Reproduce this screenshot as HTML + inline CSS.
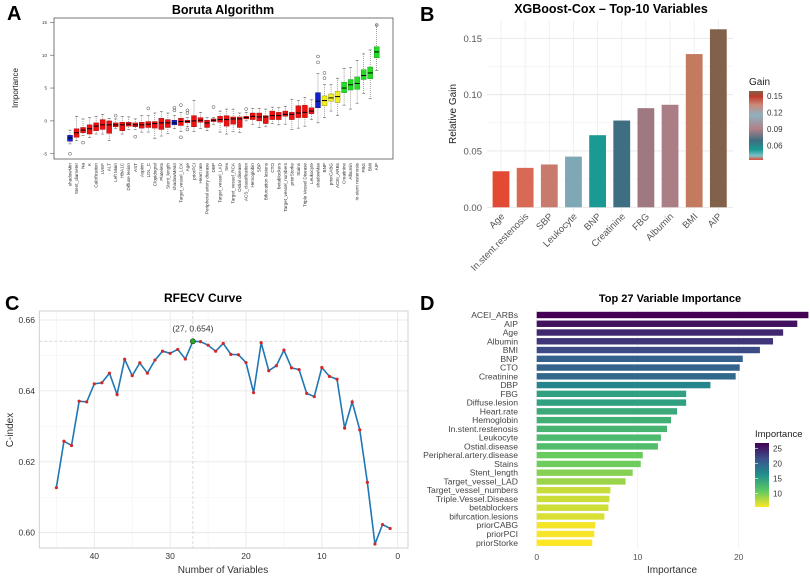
<!DOCTYPE html>
<html><head><meta charset="utf-8"><style>
html,body{margin:0;padding:0;background:#fff;}
svg{display:block;font-family:"Liberation Sans",sans-serif;}
</style></head><body>
<svg id="fig" width="810" height="579" viewBox="0 0 810 579">
<rect width="810" height="579" fill="#fff"/>
<g id="pa"></g>
<g id="pb"></g>
<g id="pc"></g>
<g id="pd"></g>
</svg>
<script>
// ---------- Panel A data ----------
const borutaNames=["shadowMin","Stent_diameter","Na","K","Calcification","LVEF","ALT","Left Main","HbA1C","Diffuse lesion","AST","Aspirin","LDL_C","Clopidogrel","Platelets","Stent_length","shadowMean","Target_vessel_LCX","Age","priorPCI","Heart rate","Peripheral artery disease","DBP","Target_vessel_LAD","Sex","Target_vessel_RCA","Ostial disease","ACS_classification","Hemoglobin","SBP","Bifurcation lesions","CTO","betablockers","Target_vessel_numbers","priorStorke","Stains","Triple Vessel Disease","Leukocyte","shadowMax","BNP","priorCABG","ACEI_ARBs","Creatinine","Albumin","In-stent restenosis","FBG","BMI","AIP"];
const borutaMed=[-2.6,-1.8,-1.4,-1.2,-0.8,-0.6,-0.6,-0.6,-0.6,-0.5,-0.6,-0.6,-0.5,-0.4,-0.3,-0.3,-0.3,-0.1,-0.1,0,0.1,-0.3,0.1,0.2,0.2,0.3,0.3,0.5,0.7,0.6,0.6,0.8,0.8,1.0,1.0,1.2,1.3,1.5,3,3.1,3.5,3.7,5,5.5,5.7,6.9,7.3,10.5];
const borutaQ1=[-3.1,-2.5,-1.8,-2,-1.5,-1.3,-1.9,-0.9,-1.5,-0.8,-0.9,-1.1,-1.0,-1.1,-1.3,-1.0,-0.6,-0.7,-0.3,-0.9,-0.2,-1.0,-0.1,-0.2,-0.8,-0.5,-1.0,0.3,0.2,0,-0.4,0.2,0.2,0.7,0.2,0.5,0.5,1.1,2,2.3,3,2.8,4.3,4.7,4.8,6.3,6.4,9.6];
const borutaQ3=[-2.2,-1.2,-1.0,-0.6,-0.3,0.2,0,-0.3,-0.2,-0.2,-0.3,-0.2,-0.1,-0.1,0.4,0.2,0.1,0.4,0.1,0.8,0.5,0.1,0.3,0.7,0.8,0.6,0.6,0.7,1.2,1.2,0.8,1.5,1.3,1.5,1.3,2.3,2.4,2.0,4.3,3.8,4.1,4.5,5.9,6.3,6.7,7.8,8.2,11.3];
const borutaLo=[-3.5,-3,-2.2,-2.5,-2,-2,-3,-1.2,-2,-1.3,-1.3,-1.7,-1.7,-2.7,-2.3,-1.9,-1.2,-1.6,-0.9,-1.6,-1.2,-1.5,-0.5,-1.7,-2,-1.6,-1.8,0,-0.5,-1,-0.9,-0.4,-0.6,-0.5,-1.3,-1.1,-0.8,0.2,-0.3,0.5,1.5,0.8,2.4,1.8,2.7,4.2,3.4,7.7];
const borutaHi=[-1.4,0.7,0.3,0.5,0.7,1,0.4,0.3,0.7,0.6,0.3,0.8,0.8,1.2,1.4,1.2,0.8,1.3,0.5,3.1,1.3,0.5,0.5,1.5,1.8,1.8,1.2,1.3,1.9,1.9,1.8,2.1,2,2.2,3.3,3.1,3.6,3.2,7.2,5.5,5.5,6.5,8,8.1,9.2,10.2,10.8,14.6];
const borutaOut=[[-5],[],[-3.3],[],[],[],[],[0.8],[],[],[-2.4],[],[1.9],[],[],[],[1.6,2.0],[2.4,-2.5],[1.6,1.2,-1.3],[],[],[],[2.1],[],[],[],[],[1.8],[],[],[],[],[],[],[],[],[],[],[8.9,9.8],[6.5,7.3],[],[],[],[],[],[],[],[14.6]];
const borutaClass=["s","r","r","r","r","r","r","r","r","r","r","r","r","r","r","r","s","r","r","r","r","r","r","r","r","r","r","r","r","r","r","r","r","r","r","r","r","r","s","y","y","y","g","g","g","g","g","g"];
const borutaTicks=[-5,0,5,10,15];
// ---------- Panel B data ----------
const xgbNames=["Age","In.stent.restenosis","SBP","Leukocyte","BNP","Creatinine","FBG","Albumin","BMI","AIP"];
const xgbGain=[0.032,0.035,0.038,0.045,0.064,0.077,0.088,0.091,0.136,0.158];
const xgbColors=["#e34a33","#d86a55","#c87a6c","#7ea8b6","#1a9a92","#3d6e82","#a07880","#aa7e84","#c47a5e","#82614a"];
const xgbTicks=[0,0.05,0.10,0.15];
const xgbTickLabels=["0.00","0.05","0.10","0.15"];
const gainLegendTicks=[0.15,0.12,0.09,0.06];
// ---------- Panel C data ----------
const rfeN=[45,44,43,42,41,40,39,38,37,36,35,34,33,32,31,30,29,28,27,26,25,24,23,22,21,20,19,18,17,16,15,14,13,12,11,10,9,8,7,6,5,4,3,2,1];
const rfeC=[.6127,.6258,.6246,.6371,.6369,.6420,.6423,.6450,.6390,.6489,.6443,.6479,.6450,.6487,.6512,.6506,.6517,.6490,.6540,.6539,.6529,.6512,.6534,.6503,.6502,.6480,.6395,.6536,.6457,.6471,.6515,.6465,.6460,.6393,.6384,.6466,.6441,.6433,.6295,.6369,.6290,.6142,.5968,.6023,.6012];
const rfeXTicks=[40,30,20,10,0];
const rfeYTicks=[0.60,0.62,0.64,0.66];
// ---------- Panel D data ----------
const impNames=["ACEI_ARBs","AIP","Age","Albumin","BMI","BNP","CTO","Creatinine","DBP","FBG","Diffuse.lesion","Heart.rate","Hemoglobin","In.stent.restenosis","Leukocyte","Ostial.disease","Peripheral.artery.disease","Stains","Stent_length","Target_vessel_LAD","Target_vessel_numbers","Triple.Vessel.Disease","betablockers","bifurcation.lesions","priorCABG","priorPCI","priorStorke"];
const impVals=[26.9,25.8,24.4,23.4,22.1,20.4,20.1,19.7,17.2,14.8,14.8,13.9,13.3,12.9,12.3,12.0,10.5,10.3,9.5,8.8,7.3,7.2,7.1,6.7,5.8,5.7,5.5];
const impXTicks=[0,10,20];
const impLegendTicks=[25,20,15,10];

const NS="http://www.w3.org/2000/svg";
function mk(parent,tag,attrs,txt){const e=document.createElementNS(NS,tag);for(const k in attrs)e.setAttribute(k,attrs[k]);if(txt!==undefined)e.textContent=txt;parent.appendChild(e);return e;}

// ================= Panel A =================
(function(){
const g=document.getElementById('pa');
const L=54,R=393,T=18,B=159;
const y=v=>120.9-v*6.57;
const x=i=>70+i*(306.7/47);
let t=mk(g,'text',{x:7,y:20,'font-size':20,'font-weight':'bold'},'A');

t=mk(g,'text',{x:223,y:14,'font-size':12.5,'font-weight':'bold','text-anchor':'middle'},'Boruta Algorithm');

let r=mk(g,'rect',{x:L,y:T,width:R-L,height:B-T,fill:'none',stroke:'#555','stroke-width':0.8});

borutaTicks.forEach(v=>{
 let l=mk(g,'line',{x1:L-4,x2:L,y1:y(v),y2:y(v),stroke:'#555','stroke-width':0.6});
 
 let tt=mk(g,'text',{x:L-7,y:y(v)+1.6,'font-size':4.5,'text-anchor':'end',fill:'#333'},String(v));
 
});
t=mk(g,'text',{x:18,y:88,'font-size':8,'text-anchor':'middle',fill:'#222',transform:'rotate(-90 18 88)'},'Importance');

const fills={r:'#ee1111',s:'#1122cc',y:'#eeee22',g:'#22dd22'};
const strokes={r:'#990000',s:'#000066',y:'#888800',g:'#118811'};
const w=5;
borutaNames.forEach((n,i)=>{
 const cx=x(i);
 let wl=mk(g,'line',{x1:cx,x2:cx,y1:y(borutaHi[i]),y2:y(borutaLo[i]),stroke:'#444','stroke-width':0.5,'stroke-dasharray':'1 1'});
 
 [borutaHi[i],borutaLo[i]].forEach(v=>{let c=mk(g,'line',{x1:cx-1.5,x2:cx+1.5,y1:y(v),y2:y(v),stroke:'#444','stroke-width':0.5});});
 let b=mk(g,'rect',{x:cx-w/2,y:y(borutaQ3[i]),width:w,height:y(borutaQ1[i])-y(borutaQ3[i]),fill:fills[borutaClass[i]],stroke:strokes[borutaClass[i]],'stroke-width':0.4});
 
 let m=mk(g,'line',{x1:cx-w/2,x2:cx+w/2,y1:y(borutaMed[i]),y2:y(borutaMed[i]),stroke:'#000','stroke-width':1});
 
 borutaOut[i].forEach(v=>{let o=mk(g,'circle',{cx:cx,cy:y(v),r:1.5,fill:'none',stroke:'#444','stroke-width':0.5});});
 let lb=mk(g,'text',{x:cx+1.5,y:163,'font-size':4.6,'text-anchor':'end',fill:'#333',transform:`rotate(-90 ${cx+1.5} 163)`},n);
 
});
})();

// ================= Panel B =================
(function(){
const g=document.getElementById('pb');
const y=v=>207.3-v*1126.7;
const x=i=>501+i*24.15;
let t=mk(g,'text',{x:420,y:21,'font-size':20,'font-weight':'bold'},'B');

t=mk(g,'text',{x:611,y:13,'font-size':12.5,'font-weight':'bold','text-anchor':'middle'},'XGBoost-Cox – Top-10 Variables');

[0.025,0.075,0.125].forEach(v=>{let l=mk(g,'line',{x1:487,x2:733,y1:y(v),y2:y(v),stroke:'#f2f2f2','stroke-width':0.6});});
xgbTicks.forEach((v,k)=>{
 let l=mk(g,'line',{x1:487,x2:733,y1:y(v),y2:y(v),stroke:'#e6e6e6','stroke-width':0.9});
 
 let tt=mk(g,'text',{x:482,y:y(v)+3.5,'font-size':9.5,'text-anchor':'end',fill:'#555'},xgbTickLabels[k]);
 
});
xgbNames.forEach((n,i)=>{let l=mk(g,'line',{x1:x(i),x2:x(i),y1:20,y2:212,stroke:'#ececec','stroke-width':0.8});});
t=mk(g,'text',{x:456,y:114,'font-size':10,'text-anchor':'middle',fill:'#222',transform:'rotate(-90 456 114)'},'Relative Gain');

xgbNames.forEach((n,i)=>{
 let b=mk(g,'rect',{x:x(i)-8.4,y:y(xgbGain[i]),width:16.8,height:y(0)-y(xgbGain[i]),fill:xgbColors[i]});
 
 let lb=mk(g,'text',{x:x(i)+4,y:217,'font-size':9.5,'text-anchor':'end',fill:'#555',transform:`rotate(-45 ${x(i)+4} 217)`},n);
 
});
t=mk(g,'text',{x:749,y:85,'font-size':10,fill:'#222'},'Gain');

const defs=mk(g,'defs',{});
const lg=mk(defs,'linearGradient',{id:'gainGrad',x1:0,y1:0,x2:0,y2:1});
[["0","#82614a"],["0.08","#c0392b"],["0.2","#c98a78"],["0.35","#8fb0c0"],["0.55","#b08088"],["0.72","#3d6e82"],["0.85","#1a9a92"],["0.94","#7ec0c8"],["1","#e34a33"]].forEach(s=>mk(lg,'stop',{offset:s[0],'stop-color':s[1]}));
let cb=mk(g,'rect',{x:749,y:91,width:14,height:69,fill:'url(#gainGrad)'});

gainLegendTicks.forEach(v=>{
 const yy=96+(0.15-v)/0.03*16.5;
 let tt=mk(g,'text',{x:767,y:yy+3,'font-size':8,fill:'#333'},v.toFixed(2));
 
});
})();

// ================= Panel C =================
(function(){
const g=document.getElementById('pc');
const L=39.3,R=408,T=311,B=548;
const y=v=>320+(0.66-v)*3545;
const x=n=>397.7-n*7.585;
let t=mk(g,'text',{x:5,y:310,'font-size':20,'font-weight':'bold'},'C');

t=mk(g,'text',{x:203,y:302,'font-size':12,'font-weight':'bold','text-anchor':'middle'},'RFECV Curve');

[0.61,0.63,0.65].forEach(v=>{let l=mk(g,'line',{x1:L,x2:R,y1:y(v),y2:y(v),stroke:'#f3f3f3','stroke-width':0.6});});
[45,35,25,15,5].forEach(v=>{let l=mk(g,'line',{x1:x(v),x2:x(v),y1:T,y2:B,stroke:'#f3f3f3','stroke-width':0.6});});
rfeYTicks.forEach(v=>{
 let l=mk(g,'line',{x1:L,x2:R,y1:y(v),y2:y(v),stroke:'#e6e6e6','stroke-width':0.8});
 
 let tt=mk(g,'text',{x:35,y:y(v)+3,'font-size':8.5,'text-anchor':'end',fill:'#333'},v.toFixed(2));
 
});
rfeXTicks.forEach(v=>{
 let l=mk(g,'line',{x1:x(v),x2:x(v),y1:T,y2:B,stroke:'#e6e6e6','stroke-width':0.8});
 
 let tt=mk(g,'text',{x:x(v),y:559,'font-size':8.5,'text-anchor':'middle',fill:'#333'},String(v));
 
});
let r=mk(g,'rect',{x:L,y:T,width:R-L,height:B-T,fill:'none',stroke:'#ccc','stroke-width':0.9});

t=mk(g,'text',{x:223,y:573,'font-size':10,'text-anchor':'middle',fill:'#333'},'Number of Variables');

t=mk(g,'text',{x:13,y:430,'font-size':10,'text-anchor':'middle',fill:'#333',transform:'rotate(-90 13 430)'},'C-index');

// best
let bi=0;rfeC.forEach((v,i)=>{if(v>rfeC[bi])bi=i;});
let h=mk(g,'line',{x1:L,x2:R,y1:y(rfeC[bi]),y2:y(rfeC[bi]),stroke:'#ccc','stroke-width':0.7,'stroke-dasharray':'3 2'});

let v2=mk(g,'line',{x1:x(rfeN[bi]),x2:x(rfeN[bi]),y1:T,y2:B,stroke:'#ccc','stroke-width':0.7,'stroke-dasharray':'3 2'});

let p=mk(g,'polyline',{points:rfeN.map((n,i)=>x(n)+','+y(rfeC[i])).join(' '),fill:'none',stroke:'#1f77b4','stroke-width':1.6});

rfeN.forEach((n,i)=>{let c=mk(g,'circle',{cx:x(n),cy:y(rfeC[i]),r:1.6,fill:'#d62728'});});
let bc=mk(g,'circle',{cx:x(rfeN[bi]),cy:y(rfeC[bi]),r:2.6,fill:'#2ca02c',stroke:'#145214','stroke-width':0.6});

t=mk(g,'text',{x:x(rfeN[bi]),y:y(rfeC[bi])-10,'font-size':8.5,'text-anchor':'middle',fill:'#333'},`(${rfeN[bi]}, ${rfeC[bi].toFixed(3)})`);

})();

// ================= Panel D =================
(function(){
const g=document.getElementById('pd');
const x=v=>536.7+v*10.1;
const y=i=>315+i*8.76;
const vir=[[0,[68,1,84]],[0.25,[59,82,139]],[0.5,[33,145,140]],[0.75,[94,201,98]],[1,[253,231,37]]];
function viridis(t){t=Math.max(0,Math.min(1,t));for(let k=1;k<vir.length;k++){if(t<=vir[k][0]){const a=vir[k-1],b=vir[k];const f=(t-a[0])/(b[0]-a[0]);const c=a[1].map((q,j)=>Math.round(q+(b[1][j]-q)*f));return `rgb(${c[0]},${c[1]},${c[2]})`;}}return 'rgb(253,231,37)';}
const vmax=Math.max(...impVals),vmin=Math.min(...impVals);
const col=v=>viridis((vmax-v)/(vmax-vmin));
let t=mk(g,'text',{x:420,y:310,'font-size':20,'font-weight':'bold'},'D');

t=mk(g,'text',{x:670,y:302,'font-size':11,'font-weight':'bold','text-anchor':'middle'},'Top 27 Variable Importance');

impXTicks.forEach(v=>{
 let l=mk(g,'line',{x1:x(v),x2:x(v),y1:309,y2:548,stroke:'#f0f0f0','stroke-width':0.8});
 
 let tt=mk(g,'text',{x:x(v),y:560,'font-size':8.5,'text-anchor':'middle',fill:'#555'},String(v));
 
});
t=mk(g,'text',{x:672,y:573,'font-size':10,'text-anchor':'middle',fill:'#333'},'Importance');

impNames.forEach((n,i)=>{
 let b=mk(g,'rect',{x:x(0),y:y(i)-3.2,width:x(impVals[i])-x(0),height:6.4,fill:col(impVals[i])});
 
 let lb=mk(g,'text',{x:518,y:y(i)+3,'font-size':8.6,'text-anchor':'end',fill:'#444'},n);
 
});
t=mk(g,'text',{x:755,y:437,'font-size':9.5,fill:'#222'},'Importance');

const defs=mk(g,'defs',{});
const lg=mk(defs,'linearGradient',{id:'virGrad',x1:0,y1:0,x2:0,y2:1});
vir.forEach(s=>mk(lg,'stop',{offset:s[0],'stop-color':`rgb(${s[1].join(',')})`}));
let cb=mk(g,'rect',{x:755,y:443,width:14,height:64,fill:'url(#virGrad)'});

impLegendTicks.forEach(v=>{
 const yy=443+(vmax-v)/(vmax-vmin)*64;
 let l=mk(g,'line',{x1:755,x2:758,y1:yy,y2:yy,stroke:'#fff','stroke-width':0.6});
 
 let tt=mk(g,'text',{x:773,y:yy+3,'font-size':8,fill:'#333'},String(v));
 
});
})();
</script>
</body></html>
